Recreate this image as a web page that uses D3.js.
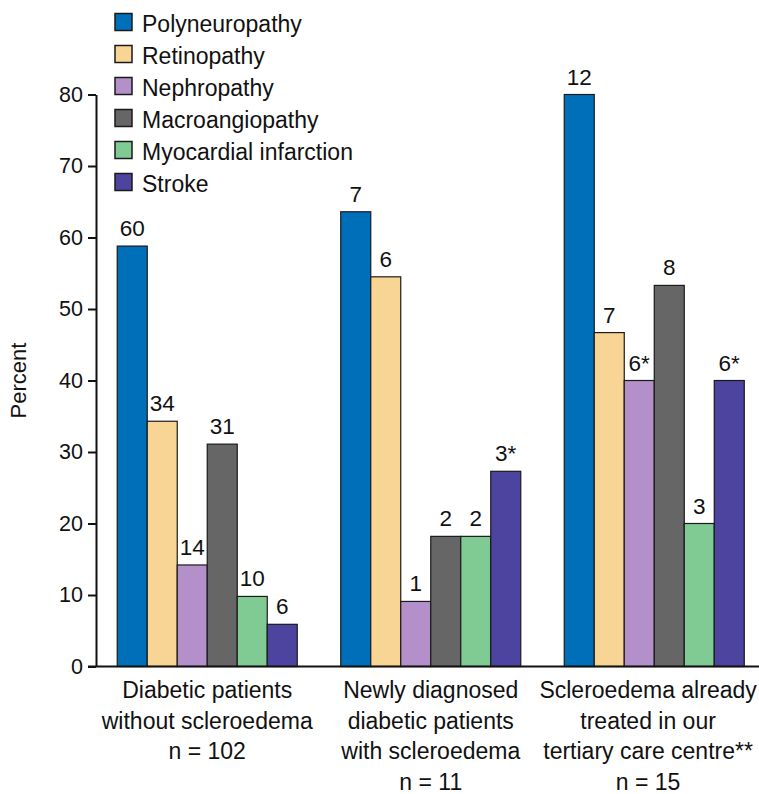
<!DOCTYPE html>
<html>
<head>
<meta charset="utf-8">
<script src="https://cdn.jsdelivr.net/npm/d3@7"></script>
<style>
  html, body { margin: 0; padding: 0; background: #fff; }
  svg text { font-family: "Liberation Sans", Arial, Helvetica, sans-serif; fill: #111; }
</style>
</head>
<body>
<svg id="chart" width="759" height="794"></svg>
<script>
// ---- data ----
const groups = ["g1", "g2", "g3"];
const groupLabels = [
  ["Diabetic patients", "without scleroedema", "n = 102"],
  ["Newly diagnosed", "diabetic patients", "with scleroedema", "n = 11"],
  ["Scleroedema already", "treated in our", "tertiary care centre**", "n = 15"]
];
const seriesNames = ["Polyneuropathy", "Retinopathy", "Nephropathy", "Macroangiopathy", "Myocardial infarction", "Stroke"];
const seriesColors = ["#006fba", "#f8d594", "#b490ca", "#666666", "#80cb94", "#4c449f"];
const polyneuropathy  = [58.8, 63.6, 80.0];
const retinopathy     = [34.3, 54.5, 46.7];
const nephropathy     = [14.2, 9.1, 40.0];
const macroangiopathy = [31.1, 18.2, 53.3];
const myocardial      = [9.8, 18.2, 20.0];
const stroke          = [5.9, 27.3, 40.0];
const countLabels = [
  ["60", "34", "14", "31", "10", "6"],
  ["7", "6", "1", "2", "2", "3*"],
  ["12", "7", "6*", "8", "3", "6*"]
];
const yTicks = [0, 10, 20, 30, 40, 50, 60, 70, 80];

const seriesValues = [polyneuropathy, retinopathy, nephropathy, macroangiopathy, myocardial, stroke];

// ---- layout ----
const W = 759, H = 794;
const svg = d3.select("#chart");
const axisX = 96, baseY = 666.5, topY = 94.5;

const x0 = d3.scaleBand().domain(groups).range([axisX, 765.5]).paddingInner(0.1946).paddingOuter(0.095);
const x1 = d3.scaleBand().domain(seriesNames).range([0, x0.bandwidth()]).padding(0);
const y = d3.scaleLinear().domain([0, 80]).range([baseY, topY]);

// bars
const barData = [];
groups.forEach((g, gi) => {
  seriesNames.forEach((s, si) => {
    barData.push({ g, gi, s, si, v: seriesValues[si][gi], label: countLabels[gi][si] });
  });
});

const gBars = svg.append("g");
gBars.selectAll("rect").data(barData).join("rect")
  .attr("x", d => x0(d.g) + x1(d.s))
  .attr("y", d => y(d.v))
  .attr("width", x1.bandwidth())
  .attr("height", d => y(0) - y(d.v))
  .attr("fill", d => seriesColors[d.si])
  .attr("stroke", "#1a1a1a")
  .attr("stroke-width", 1.2);

gBars.selectAll("text").data(barData).join("text")
  .attr("x", d => x0(d.g) + x1(d.s) + x1.bandwidth() / 2)
  .attr("y", d => y(d.v) - 10)
  .attr("text-anchor", "middle")
  .attr("font-size", "22.5px")
  .text(d => d.label);

// y axis
const yAxis = d3.axisLeft(y).tickValues(yTicks).tickSize(8).tickPadding(5).tickSizeOuter(0);
const gy = svg.append("g").attr("transform", `translate(${axisX},0)`).call(yAxis);
gy.select(".domain").attr("stroke", "#111").attr("stroke-width", 2);
gy.selectAll(".tick line").attr("stroke", "#111").attr("stroke-width", 2);
gy.selectAll(".tick text").attr("font-size", "21.5px").attr("font-family", "Liberation Sans, Arial, sans-serif").attr("fill", "#111");

// x axis baseline
const xAxis = d3.axisBottom(x0).tickSize(0).tickFormat("").tickSizeOuter(0);
const gx = svg.append("g").attr("transform", `translate(0,${baseY})`).call(xAxis);
gx.select(".domain").attr("d", `M${axisX - 8},0H${W}`).attr("stroke", "#111").attr("stroke-width", 2.2);

// category labels
const gl = svg.append("g");
groups.forEach((g, gi) => {
  const t = gl.append("text").attr("text-anchor", "middle").attr("font-size", "23px");
  groupLabels[gi].forEach((line, li) => {
    t.append("tspan").attr("x", 0).attr("y", 698 + li * 30.6).text(line);
  });
  const bb = t.node().getBBox();
  let cx = x0(g) + x0.bandwidth() / 2;
  cx = Math.min(cx, W - 2 - bb.width / 2);
  t.selectAll("tspan").attr("x", cx);
});

// y label
svg.append("text")
  .attr("transform", `translate(26,${(topY + baseY) / 2}) rotate(-90)`)
  .attr("text-anchor", "middle")
  .attr("font-size", "22px")
  .text("Percent");

// legend
const lg = svg.append("g");
seriesNames.forEach((s, i) => {
  const cy = 22 + i * 32;
  lg.append("rect").attr("x", 115).attr("y", cy - 8.5).attr("width", 17).attr("height", 17)
    .attr("fill", seriesColors[i]).attr("stroke", "#1a1a1a").attr("stroke-width", 1.5);
  lg.append("text").attr("x", 142).attr("y", cy).attr("dy", "0.42em")
    .attr("font-size", "23px").text(s);
});
</script>
</body>
</html>
